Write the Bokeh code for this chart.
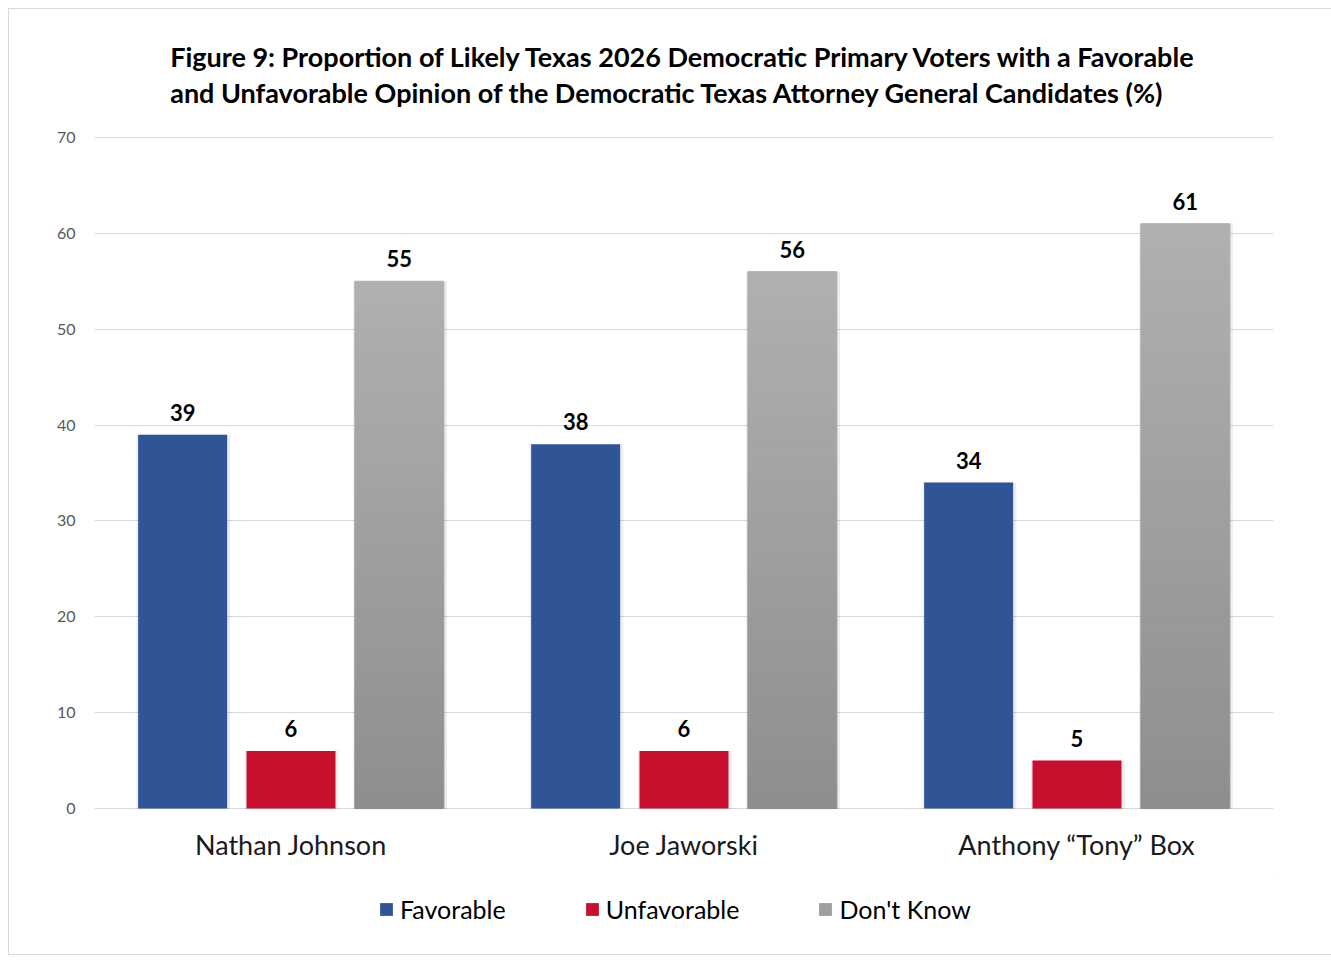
from bokeh.plotting import figure
from bokeh.layouts import column
from bokeh.models import (ColumnDataSource, FactorRange, Range1d, Title, Legend, LegendItem,
                          SingleIntervalTicker)
from bokeh.transform import dodge
from bokeh.core.properties import value
from bokeh.embed import file_html
from bokeh.resources import INLINE

candidates = ["Nathan Johnson", "Joe Jaworski", "Anthony \u201cTony\u201d Box"]
favorable = [39, 38, 34]
unfavorable = [6, 6, 5]
dont_know = [55, 56, 61]
series_names = ["Favorable", "Unfavorable", "Don't Know"]

title_text = ("Figure 9: Proportion of Likely Texas 2026 Democratic Primary Voters with a Favorable\n"
              "and Unfavorable Opinion of the Democratic Texas Attorney General Candidates (%)")

FONT = "Lato"
BLUE = "#2f5597"
RED = "#c8102e"
GRAY = "#9e9e9e"
GRAY_TOP = (176, 176, 176)
GRAY_BOT = (142, 142, 142)

src = ColumnDataSource(dict(cand=candidates, fav=favorable, unf=unfavorable, dk=dont_know))

# gradient segments for "Don't Know" bars (derived from the data values)
N = 40
seg = dict(cand=[], bottom=[], top=[], color=[])
for c, v in zip(candidates, dont_know):
    for i in range(N):
        t = (i + 0.5) / N
        col = tuple(int(round(GRAY_BOT[k] + (GRAY_TOP[k] - GRAY_BOT[k]) * t)) for k in range(3))
        seg["cand"].append(c)
        seg["bottom"].append(v * i / N)
        seg["top"].append(v * (i + 1) / N)
        seg["color"].append("#%02x%02x%02x" % col)
seg_src = ColumnDataSource(seg)

p = figure(x_range=FactorRange(*candidates), y_range=Range1d(-0.1, 70.1),
           frame_width=1179, frame_height=673, output_backend="svg", toolbar_location=None,
           min_border_left=85, min_border_right=59, min_border_bottom=70, min_border_top=127,
           title=None)
p.x_range.range_padding = 0
p.outline_line_color = None
p.background_fill_color = "white"
p.border_fill_color = "white"

title = Title(text=title_text, align="center", text_font=FONT, text_font_size="27px",
              text_font_style="bold", text_color="#000000", standoff=54, text_line_height=1.1)
p.add_layout(title, "above")

W = 0.2265
OFF = 0.2757
SH = 0.012
# soft shadows
for off, col in [(-OFF, "fav"), (0, "unf"), (OFF, "dk")]:
    p.vbar(x=dodge("cand", off + 0.002, range=p.x_range), top=col, bottom=-0.35, width=W + SH,
           source=src, fill_color="#000000", fill_alpha=0.07, line_color=None)

p.vbar(x=dodge("cand", -OFF, range=p.x_range), top="fav", width=W, source=src,
       fill_color=BLUE, line_color=None)
p.vbar(x=dodge("cand", 0, range=p.x_range), top="unf", width=W, source=src,
       fill_color=RED, line_color=None)
p.vbar(x=dodge("cand", OFF, range=p.x_range), bottom="bottom", top="top", width=W,
       source=seg_src, fill_color="color", line_color="color", line_width=1)

lab_kw = dict(text_font=value(FONT), text_font_size="22px", text_font_style="bold",
              text_align="center", text_baseline="bottom", y_offset=-14, text_color="#000000",
              source=src)
p.text(x=dodge("cand", -OFF, range=p.x_range), y="fav", text="fav", **lab_kw)
p.text(x=dodge("cand", 0, range=p.x_range), y="unf", text="unf", **lab_kw)
p.text(x=dodge("cand", OFF, range=p.x_range), y="dk", text="dk", **lab_kw)

# axes
p.yaxis.ticker = SingleIntervalTicker(interval=10)
p.yaxis.axis_line_color = None
p.yaxis.major_tick_line_color = None
p.yaxis.minor_tick_line_color = None
p.yaxis.major_label_text_font = FONT
p.yaxis.major_label_text_font_size = "16px"
p.yaxis.major_label_text_color = "#595959"
p.yaxis.major_label_standoff = 13

p.xaxis.axis_line_color = None
p.xaxis.major_tick_line_color = None
p.xaxis.major_label_text_font = FONT
p.xaxis.major_label_text_font_size = "27px"
p.xaxis.major_label_text_color = "#1a1a1a"
p.xaxis.major_label_standoff = 12

p.xgrid.grid_line_color = None
p.ygrid.grid_line_color = "#d9d9d9"
p.ygrid.grid_line_width = 1

# legend strip (separate small figure below the chart)
lg = figure(width=1323, height=75, x_range=Range1d(0, 1), y_range=Range1d(0, 1),
            output_backend="svg", toolbar_location=None, x_axis_location=None,
            y_axis_location=None, min_border=0, title=None)
lg.grid.grid_line_color = None
lg.outline_line_color = None
lg.border_fill_color = "white"
# swatch renderers sit outside the visible range; only their legend glyphs show
hidden = ColumnDataSource(dict(x=[10], top=[10], bottom=[9]))
swatches = []
for name, col in zip(series_names, [BLUE, RED, GRAY]):
    r = lg.vbar(x="x", top="top", bottom="bottom", width=0.1, source=hidden,
                fill_color=col, line_color=None)
    swatches.append(LegendItem(label=name, renderers=[r]))
legend = Legend(items=swatches, orientation="horizontal", location=(284, 30),
                border_line_color=None, background_fill_alpha=0, label_text_font=FONT,
                label_text_font_size="25px", label_text_color="#000000", glyph_width=16,
                glyph_height=16, label_standoff=6, spacing=78, padding=0, margin=0)
lg.add_layout(legend, "center")

layout = column(p, lg, spacing=0,
                styles={"border": "1px solid #d9d9d9", "margin-left": "8px", "margin-top": "8px"})

open("out.html", "w").write(file_html(layout, INLINE))
